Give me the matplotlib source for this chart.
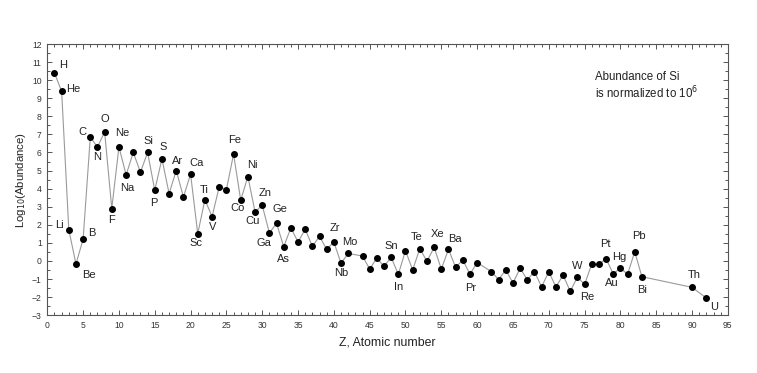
import matplotlib
matplotlib.use("Agg")
import matplotlib.pyplot as plt
from matplotlib.ticker import MultipleLocator

plt.rcParams['font.family'] = ['Liberation Sans', 'DejaVu Sans']

# Atomic numbers and log10 abundances (Si = 10^6)
Z = [1, 2, 3, 4, 5, 6, 7, 8, 9, 10, 11, 12, 13, 14, 15, 16, 17, 18, 19, 20,
     21, 22, 23, 24, 25, 26, 27, 28, 29, 30, 31, 32, 33, 34, 35, 36, 37, 38, 39, 40,
     41, 42, 44, 45, 46, 47, 48, 49, 50, 51, 52, 53, 54, 55, 56, 57, 58, 59, 60,
     62, 63, 64, 65, 66, 67, 68, 69, 70, 71, 72, 73, 74, 75, 76, 77, 78, 79, 80,
     81, 82, 83, 90, 92]
logA = [10.40, 9.38, 1.73, -0.17, 1.21, 6.85, 6.30, 7.14, 2.90, 6.31, 4.76, 6.00, 4.91, 6.00,
        3.91, 5.65, 3.73, 5.00, 3.54, 4.80,
        1.51, 3.39, 2.45, 4.11, 3.95, 5.91, 3.36, 4.67, 2.71, 3.08, 1.55, 2.08, 0.79, 1.83,
        1.05, 1.75, 0.81, 1.36, 0.64, 1.05,
        -0.13, 0.42, 0.27, -0.45, 0.16, -0.30, 0.20, -0.74, 0.57, -0.50, 0.68, -0.02, 0.75,
        -0.45, 0.64, -0.35, 0.05, -0.74, -0.09,
        -0.59, -1.03, -0.49, -1.22, -0.41, -1.04, -0.59, -1.44, -0.59, -1.44, -0.78, -1.68,
        -0.89, -1.30, -0.17, -0.19, 0.13, -0.72, -0.39,
        -0.74, 0.51, -0.87, -1.46, -2.05]

# Labelled elements: symbol, Z, label offset (pixels, x right / y up)
lab_sym = ['H', 'He', 'Li', 'Be', 'B', 'C', 'N', 'O', 'F', 'Ne', 'Na', 'Si', 'P', 'S',
           'Ar', 'Ca', 'Sc', 'Ti', 'V', 'Fe', 'Co', 'Ni', 'Cu', 'Zn', 'Ga', 'Ge', 'As',
           'Zr', 'Nb', 'Mo', 'Sn', 'In', 'Te', 'Xe', 'Ba', 'Pr', 'W', 'Re', 'Pt', 'Au',
           'Hg', 'Pb', 'Bi', 'Th', 'U']
lab_z = [1, 2, 3, 4, 5, 6, 7, 8, 9, 10, 11, 14, 15, 16,
         18, 20, 21, 22, 23, 26, 27, 28, 29, 30, 31, 32, 33,
         40, 41, 42, 50, 49, 52, 54, 56, 59, 74, 75, 78, 79,
         80, 82, 83, 90, 92]
lab_dx = [9, 12, -9, 13, 9, -8, 0, 0, 0, 3, 1, 1, -1, 1,
          1, 6, -2, -1, 1, 1, -3, 4, -2, 3, -5, 3, 0,
          1, 0, 2, -14, 0, -3, 3, 6, 1, 0, 3, -1, -1,
          -1, 4, 0, 2, 8]
lab_dy = [8, 2, 5, -11, 6, 5, -10, 13, -11, 14, -13, 11, -13, 12,
          10, 11, -9, 10, -10, 14, -8, 12, -9, 12, -10, 14, -12,
          14, -10, 11, 5, -13, 12, 13, 10, -14, 11, -13, 15, -9,
          11, 16, -13, 12, -9]

fig = plt.figure(figsize=(7.57, 3.73), dpi=100)
ax = fig.add_axes([0.0625, 0.155, 0.899, 0.727])

ax.plot(Z, logA, '-', color='#9a9a9a', lw=0.8, zorder=1)
ax.plot(Z, logA, 'o', color='black', ms=4.0, mec='black', zorder=2)

zmap = dict(zip(Z, logA))
for s, z, dx, dy in zip(lab_sym, lab_z, lab_dx, lab_dy):
    ax.annotate(s, (z, zmap[z]), xytext=(dx, dy), textcoords='offset pixels',
                ha='center', va='center', fontsize=8, color='#222222')

ax.text(0.805, 0.878, 'Abundance of Si', transform=ax.transAxes,
        fontsize=8.3, color='#222222', ha='left', va='center')
ax.text(0.805, 0.819, 'is normalized to 10$^{6}$', transform=ax.transAxes,
        fontsize=8.3, color='#222222', ha='left', va='center')

ax.set_xlim(0, 95)
ax.set_ylim(-3, 12)
ax.xaxis.set_major_locator(MultipleLocator(5))
ax.xaxis.set_minor_locator(MultipleLocator(1))
ax.yaxis.set_major_locator(MultipleLocator(1))
ax.yaxis.set_minor_locator(MultipleLocator(0.5))
ax.tick_params(which='both', direction='in', top=True, right=True, color='#555555',
               labelsize=6.2, labelcolor='#333333', width=0.7)
ax.tick_params(which='major', length=3.5, pad=4)
ax.tick_params(which='minor', length=2)
for sp in ax.spines.values():
    sp.set_color('#555555')
    sp.set_linewidth(0.8)

ax.set_xlabel('Z, Atomic number', fontsize=8.8, color='#222222', labelpad=5)
ax.set_ylabel('Log$_{10}$(Abundance)', fontsize=8.2, color='#222222', labelpad=3)

fig.savefig('out.png', dpi=100)
